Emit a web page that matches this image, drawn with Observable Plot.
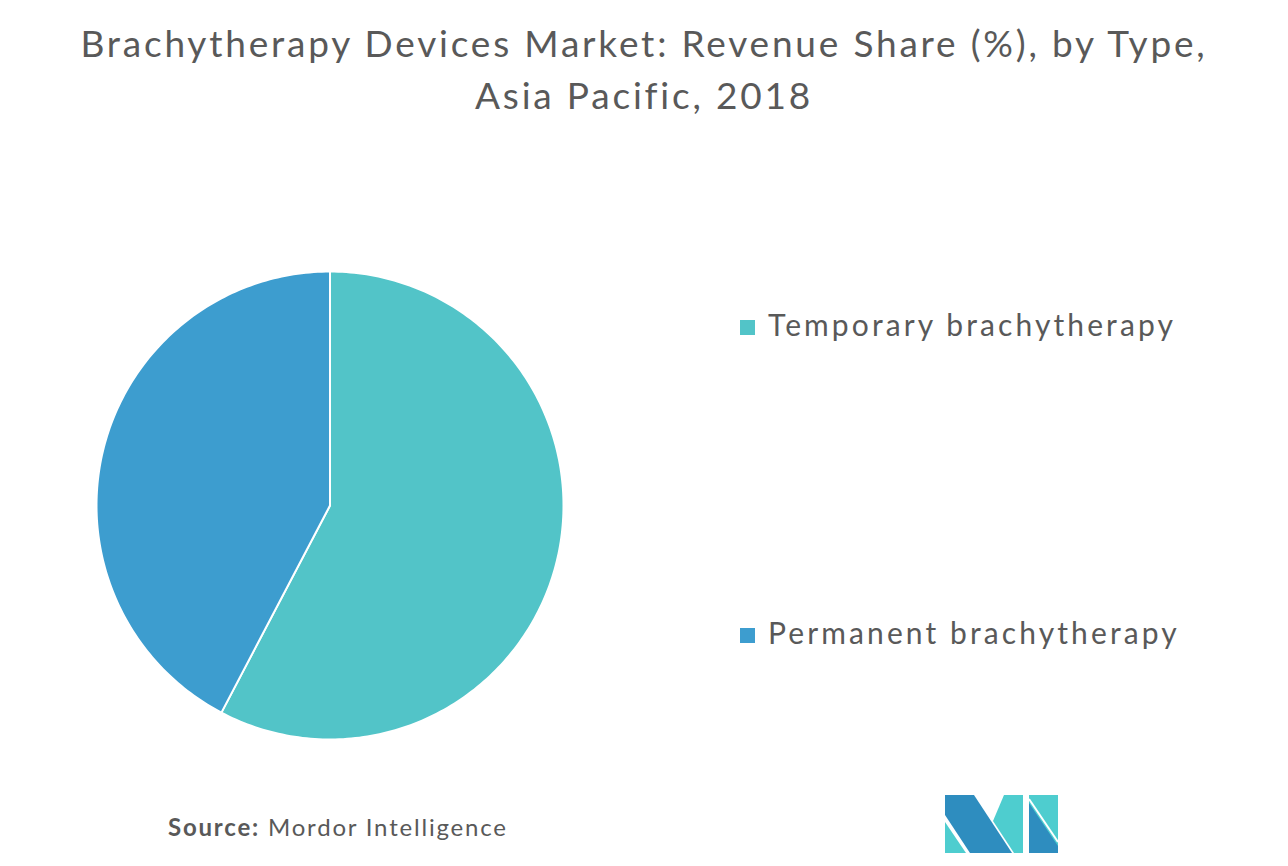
<!DOCTYPE html>
<html>
<head>
<meta charset="utf-8">
<script src="https://cdn.jsdelivr.net/npm/d3@7"></script>
<script src="https://cdn.jsdelivr.net/npm/@observablehq/plot@0.6"></script>
<style>
  html, body { margin: 0; padding: 0; background: #fff; }
  #wrap { position: relative; width: 1288px; height: 866px; overflow: hidden; font-family: Lato, "Open Sans", sans-serif; color: #595959; }
  #title { position: absolute; left: 0; top: 17px; width: 1288px; text-align: center; font-size: 37px; line-height: 52px; color: #595959; letter-spacing: 2.8px; }
  #chart { position: absolute; left: 0; top: 0; }
  .leg { position: absolute; left: 740px; font-size: 30px; color: #595959; white-space: nowrap; letter-spacing: 3.1px; }
  .leg .sw { display: inline-block; width: 15px; height: 15px; margin-right: 13px; vertical-align: 1px; }
  #source { position: absolute; left: 168px; top: 812px; font-size: 24px; color: #595959; letter-spacing: 1.8px; }
  #source b { font-weight: 700; }
  #logo { position: absolute; left: 0; top: 0; }
</style>
</head>
<body>
<div id="wrap">
  <div id="title">Brachytherapy Devices Market: Revenue Share (%), by Type,<br>Asia Pacific, 2018</div>
  <div id="chart"></div>
  <div id="legend"></div>
  <div id="source"><b>Source:</b> Mordor Intelligence</div>
  <svg id="logo" width="1288" height="866">
    <polygon points="945,795 974,795 1012,853 970,853 945,815" fill="#2E8DBF"/>
    <polygon points="945,822 945,853 966,853" fill="#4ECDCF"/>
    <polygon points="1004,795 1023,795 1023,853 1014,853 993,821" fill="#4ECDCF"/>
    <rect x="1029" y="795" width="29" height="58" fill="#4ECDCF"/>
    <polygon points="1029,803 1058,846 1058,853 1029,853" fill="#2E8DBF"/>
    <line x1="1029" y1="799" x2="1058" y2="842" stroke="#fff" stroke-width="2"/>
  </svg>
</div>
<script>
const types = ["Temporary brachytherapy", "Permanent brachytherapy"];
const shares = [57.7, 42.3];
const colors = ["#52C4C8", "#3D9DCF"];

// build slice outlines from the share values (angles from d3.pie)
const pie = d3.pie().sort(null).value(d => d.share)(types.map((t, i) => ({type: t, share: shares[i]})));
const pts = [];
for (const s of pie) {
  pts.push({type: s.data.type, x: 0, y: 0});
  const n = Math.max(2, Math.ceil((s.endAngle - s.startAngle) / (2 * Math.PI) * 360));
  for (let k = 0; k <= n; k++) {
    const a = s.startAngle + (s.endAngle - s.startAngle) * k / n;
    pts.push({type: s.data.type, x: Math.sin(a), y: Math.cos(a)});
  }
}

const plot = Plot.plot({
  width: 1288,
  height: 866,
  margin: 0,
  x: {domain: [-1, 1], range: [96, 563], axis: null},
  y: {domain: [-1, 1], range: [739, 271], axis: null},
  color: {domain: types, range: colors},
  marks: [
    Plot.line(pts, {x: "x", y: "y", z: "type", fill: "type", stroke: "#fff", strokeWidth: 2, curve: "linear-closed"})
  ]
});
document.getElementById("chart").appendChild(plot);

const legTops = [306, 614];
const leg = document.getElementById("legend");
types.forEach((t, i) => {
  const d = document.createElement("div");
  d.className = "leg";
  d.style.top = legTops[i] + "px";
  d.innerHTML = `<span class="sw" style="background:${colors[i]}"></span>${t}`;
  leg.appendChild(d);
});
</script>
</body>
</html>
